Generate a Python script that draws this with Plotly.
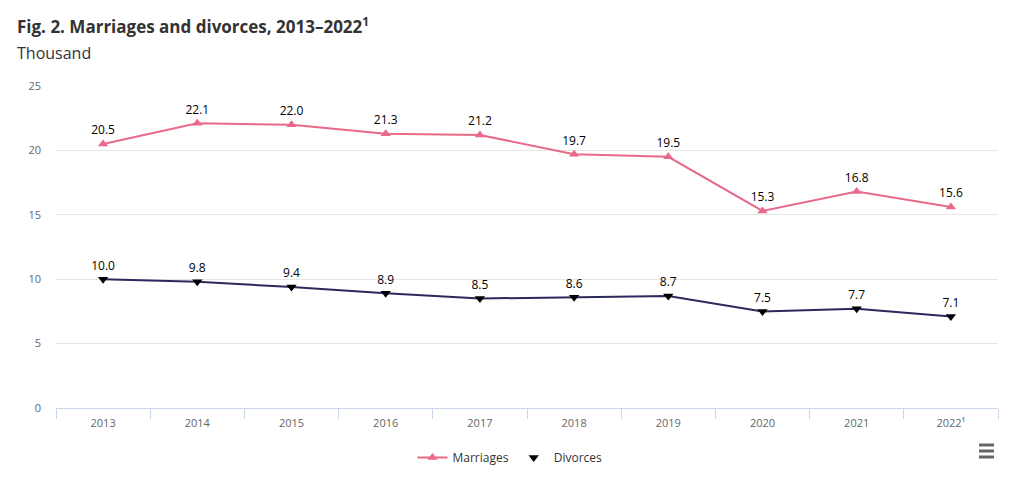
import plotly.graph_objects as go

years = ["2013", "2014", "2015", "2016", "2017", "2018", "2019", "2020", "2021", "2022¹"]
marriages = [20.5, 22.1, 22.0, 21.3, 21.2, 19.7, 19.5, 15.3, 16.8, 15.6]
divorces = [10.0, 9.8, 9.4, 8.9, 8.5, 8.6, 8.7, 7.5, 7.7, 7.1]

pink = "#e8698a"
navy = "#2b2a5c"
font = "Open Sans"

# page body has an 8px margin; work in screen pixels and convert
OFF = 8
W, H = 1019 - OFF, 477 - OFF
# plot area in screen pixels: x 56..998, y 86..408
ML, MR = 56 - OFF, (1019 - 998)
MT, MB = 86 - OFF, (477 - 408)
pw = W - ML - MR
ph = H - MT - MB


def px_x(sx):
    return (sx - OFF - ML) / pw


def px_y(sy):
    return (H - MB - (sy - OFF)) / ph


fig = go.Figure()
fig.add_trace(go.Scatter(
    x=years, y=marriages, name="Marriages", mode="lines+markers+text",
    line=dict(color=pink, width=2),
    marker=dict(symbol="triangle-up", size=9, color=pink),
    text=[f"{v:.1f}" for v in marriages], textposition="top center",
    textfont=dict(family=font, size=12, color="#000000"),
    cliponaxis=False,
))
fig.add_trace(go.Scatter(
    x=years, y=divorces, name="Divorces", mode="lines+markers+text",
    line=dict(color=navy, width=2),
    marker=dict(symbol="triangle-down", size=9, color="#000000"),
    text=[f"{v:.1f}" for v in divorces], textposition="top center",
    textfont=dict(family=font, size=12, color="#000000"),
    cliponaxis=False, showlegend=False,
))
# legend entry for divorces: marker only, as in the reference
fig.add_trace(go.Scatter(
    x=[None], y=[None], name="Divorces", mode="markers",
    marker=dict(symbol="triangle-down", size=9, color="#000000"),
))

fig.update_layout(
    width=W, height=H,
    margin=dict(l=ML, r=MR, t=MT, b=MB, autoexpand=False),
    paper_bgcolor="white", plot_bgcolor="white",
    font=dict(family=font, color="#666666", size=11),
    showlegend=True,
    legend=dict(orientation="h", x=px_x(510), xanchor="center", y=px_y(443), yanchor="top",
                font=dict(family=font, size=12, color="#333333"),
                itemwidth=30, tracegroupgap=0),
    annotations=[
        dict(text="<b>Fig. 2. Marriages and divorces, 2013–2022<sup>1</sup></b>",
             x=px_x(15), y=px_y(11), xref="paper", yref="paper", showarrow=False,
             xanchor="left", yanchor="top", font=dict(family=font, size=17, color="#333333")),
        dict(text="Thousand", x=px_x(15), y=px_y(40), xref="paper", yref="paper", showarrow=False,
             xanchor="left", yanchor="top", font=dict(family=font, size=16, color="#333333")),
    ],
)

fig.update_xaxes(
    type="category", tickson="boundaries", ticks="outside", ticklen=10,
    tickcolor="#ccd6eb", showline=True, linecolor="#ccd6eb", linewidth=1,
    showgrid=False, tickfont=dict(family=font, size=11, color="#666666"),
    range=[-0.5, 9.5], automargin=False, ticklabelstandoff=5,
)
fig.update_yaxes(
    range=[0, 25], dtick=5, showgrid=True, gridcolor="#e6e6e6", gridwidth=1,
    zeroline=False, showline=False, ticks="", ticklabelstandoff=14,
    tickfont=dict(family=font, size=11, color="#666666"), automargin=False,
)

# hamburger export icon
for sy in (445, 451, 457):
    fig.add_shape(type="line", xref="paper", yref="paper",
                  x0=px_x(979), x1=px_x(994), y0=px_y(sy), y1=px_y(sy),
                  line=dict(color="#666666", width=3))

fig.write_html("out.html")
